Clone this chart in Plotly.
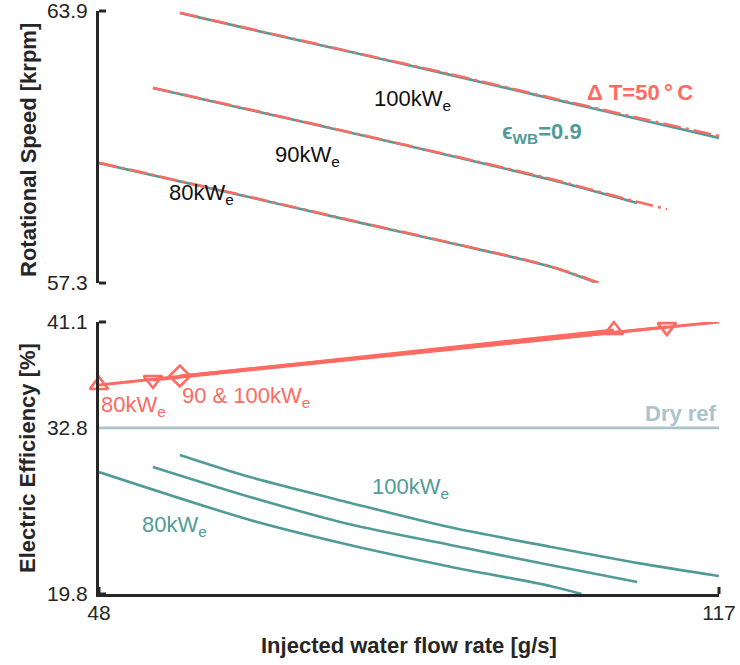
import plotly.graph_objects as go

# ---- data: injected water flow rate [g/s] ----
# Rotational speed [krpm], wet-bulb effectiveness 0.9 (solid)
spd_80_x = [48.0, 64.8, 75.9, 87.1, 98.2, 103.2]
spd_80_y = [60.21, 59.38, 58.82, 58.27, 57.70, 57.32]
spd_90_x = [54.0, 64.8, 75.9, 87.1, 98.2, 107.9]
spd_90_y = [62.03, 61.50, 60.95, 60.39, 59.81, 59.24]
spd_100_x = [57.0, 64.8, 75.9, 87.1, 98.2, 108.2, 117.0]
spd_100_y = [63.85, 63.46, 62.91, 62.35, 61.78, 61.27, 60.82]

# Rotational speed [krpm], delta T = 50 C (dash-dot)
spd_dt_80_x = [48.0, 64.8, 75.9, 87.1, 98.2, 103.6]
spd_dt_80_y = [60.22, 59.39, 58.83, 58.28, 57.71, 57.31]
spd_dt_90_x = [54.0, 64.8, 75.9, 87.1, 98.2, 107.9, 111.2]
spd_dt_90_y = [62.04, 61.51, 60.96, 60.40, 59.83, 59.27, 59.09]
spd_dt_100_x = [57.0, 64.8, 75.9, 87.1, 98.2, 108.2, 117.0]
spd_dt_100_y = [63.86, 63.47, 62.92, 62.37, 61.80, 61.30, 60.87]

# Electric efficiency [%], wet-bulb effectiveness 0.9
eff_80_x = [48.0, 64.8, 75.9, 87.1, 98.2, 101.7]
eff_80_y = [29.35, 25.60, 23.64, 21.94, 20.43, 19.80]
eff_90_x = [54.0, 64.8, 75.9, 87.1, 98.2, 107.9]
eff_90_y = [29.75, 27.40, 25.26, 23.64, 22.07, 20.74]
eff_100_x = [57.0, 64.8, 75.9, 87.1, 98.2, 108.2, 117.0]
eff_100_y = [30.69, 28.96, 26.95, 25.02, 23.50, 22.20, 21.21]

# Electric efficiency [%], delta T = 50 C
eff_dt_80_x = [48.0, 105.3]
eff_dt_80_y = [36.17, 40.47]
eff_dt_90_x = [54.0, 111.2]
eff_dt_90_y = [36.56, 40.70]
eff_dt_100_x = [57.0, 117.0]
eff_dt_100_y = [36.87, 41.10]

dry_ref = 32.8

x_ticks = [48, 117]
spd_ticks = [57.3, 63.9]
eff_ticks = [19.8, 32.8, 41.1]

RED = "#ff6a62"
TEAL = "#519b97"
GREY = "#aac3cc"
INK = "#262626"
FONT = "Liberation Sans, Arial, sans-serif"

fig = go.Figure()

def line(x, y, color, xaxis, yaxis, width=2.6, dash="solid"):
    fig.add_trace(go.Scatter(
        x=x, y=y, mode="lines", xaxis=xaxis, yaxis=yaxis,
        line=dict(color=color, width=width, dash=dash, shape="spline", smoothing=0.8),
        hoverinfo="skip", showlegend=False))

# top panel: solid teal under dash-dot red
for xs, ys in [(spd_80_x, spd_80_y), (spd_90_x, spd_90_y), (spd_100_x, spd_100_y)]:
    line(xs, ys, TEAL, "x", "y", width=2.6)
for xs, ys in [(spd_dt_80_x, spd_dt_80_y), (spd_dt_90_x, spd_dt_90_y),
               (spd_dt_100_x, spd_dt_100_y)]:
    line(xs, ys, RED, "x", "y", width=2.5, dash="18px,5px,3px,5px")

# bottom panel
fig.add_trace(go.Scatter(
    x=x_ticks, y=[dry_ref, dry_ref], mode="lines", xaxis="x2", yaxis="y2",
    line=dict(color=GREY, width=2.8), hoverinfo="skip", showlegend=False))
for xs, ys in [(eff_80_x, eff_80_y), (eff_90_x, eff_90_y), (eff_100_x, eff_100_y)]:
    line(xs, ys, TEAL, "x2", "y2", width=2.6)

for xs, ys, sym in [(eff_dt_80_x, eff_dt_80_y, "triangle-up-open"),
                    (eff_dt_90_x, eff_dt_90_y, "triangle-down-open"),
                    (eff_dt_100_x, eff_dt_100_y, "diamond-open")]:
    fig.add_trace(go.Scatter(
        x=xs, y=ys, mode="lines", xaxis="x2", yaxis="y2",
        line=dict(color=RED, width=3.0), hoverinfo="skip", showlegend=False))
    mx, my = (xs, ys) if sym != "diamond-open" else (xs[:1], ys[:1])
    fig.add_trace(go.Scatter(
        x=mx, y=my, mode="markers", xaxis="x2", yaxis="y2", cliponaxis=False,
        marker=dict(symbol=sym, size=16, color=RED, line=dict(color=RED, width=2.6)),
        hoverinfo="skip", showlegend=False))

axis_common = dict(
    showline=True, linecolor=INK, linewidth=3, ticks="", showgrid=False,
    zeroline=False, automargin=False, ticklabeloverflow="allow",
    tickfont=dict(family=FONT, size=21, color=INK), mirror=False,
)

fig.update_layout(
    width=740, height=665,
    margin=dict(l=99, r=21, t=11, b=71, autoexpand=False),
    paper_bgcolor="white", plot_bgcolor="white",
    font=dict(family=FONT, color=INK),
    xaxis=dict(domain=[0, 1], range=[48, 117], visible=False, anchor="y"),
    yaxis=dict(domain=[0.5334, 1.0], range=[57.3, 63.9], anchor="x",
               tickvals=spd_ticks, ticktext=["57.3", "63.9"], ticklabelstandoff=4,
               **axis_common),
    xaxis2=dict(domain=[0, 1], range=[48, 117], anchor="y2",
                tickvals=x_ticks, ticktext=["48", "117"], ticklabelstandoff=-2,
                **axis_common),
    yaxis2=dict(domain=[0.0, 0.4666], range=[19.8, 41.1], anchor="x2",
                tickvals=eff_ticks, ticktext=["19.8", "32.8", "41.1"], ticklabelstandoff=4,
                **axis_common),
)

# inward end ticks forming the bracket-style axes
TL = 7 / 620
TV = 7 / 272
tick_style = dict(color=INK, width=3)
for yref, xref in [("y domain", "x domain"), ("y2 domain", "x2 domain")]:
    for yy in (0, 1):
        fig.add_shape(type="line", xref=xref, yref=yref, x0=0, x1=TL, y0=yy, y1=yy,
                      line=tick_style)
for xx in (0, 1):
    fig.add_shape(type="line", xref="x2 domain", yref="y2 domain", x0=xx, x1=xx,
                  y0=0, y1=TV, line=tick_style)

def label(text, x, y, color, yref, xref, size=22, bold=False, xanchor="left"):
    if bold:
        text = "<b>" + text + "</b>"
    fig.add_annotation(
        text=text, x=x, y=y, xref=xref, yref=yref, showarrow=False,
        xanchor=xanchor, yanchor="middle",
        font=dict(family=FONT, size=size, color=color))

# top panel labels
label("100kW<sub>e</sub>", 78.4, 61.75, "#111111", "y", "x")
label("90kW<sub>e</sub>", 67.4, 60.37, "#111111", "y", "x")
label("80kW<sub>e</sub>", 55.6, 59.47, "#111111", "y", "x")
label("Δ T=50\u2009°\u2009C", 102.1, 61.93, RED, "y", "x", size=22, bold=True)
label("ϵ<sub>WB</sub>=0.9", 92.6, 60.95, TEAL, "y", "x", size=22, bold=True)

# bottom panel labels
label("80kW<sub>e</sub>", 48.0, 34.5, RED, "y2", "x2")
label("90 &amp; 100kW<sub>e</sub>", 57.0, 35.2, RED, "y2", "x2")
label("Dry ref", 117.0, 33.9, GREY, "y2", "x2", size=22, bold=True, xanchor="right")
label("100kW<sub>e</sub>", 78.2, 28.1, TEAL, "y2", "x2")
label("80kW<sub>e</sub>", 52.6, 25.1, TEAL, "y2", "x2")

# axis titles, placed in pixel terms and converted to paper coordinates
pw, ph = 740 - 99 - 21, 665 - 11 - 71
title_font = dict(family=FONT, size=22, color=INK)
for text, px, py, angle in [("<b>Rotational Speed [krpm]</b>", 28, 150, -90),
                            ("<b>Electric Efficiency [%]</b>", 28, 458, -90),
                            ("<b>Injected water flow rate [g/s]</b>", 409, 645, 0)]:
    fig.add_annotation(text=text, x=(px - 99) / pw, y=(665 - 71 - py) / ph,
                       xref="paper", yref="paper", showarrow=False,
                       textangle=angle, xanchor="center", yanchor="middle",
                       font=title_font)

fig.write_html("out.html")
